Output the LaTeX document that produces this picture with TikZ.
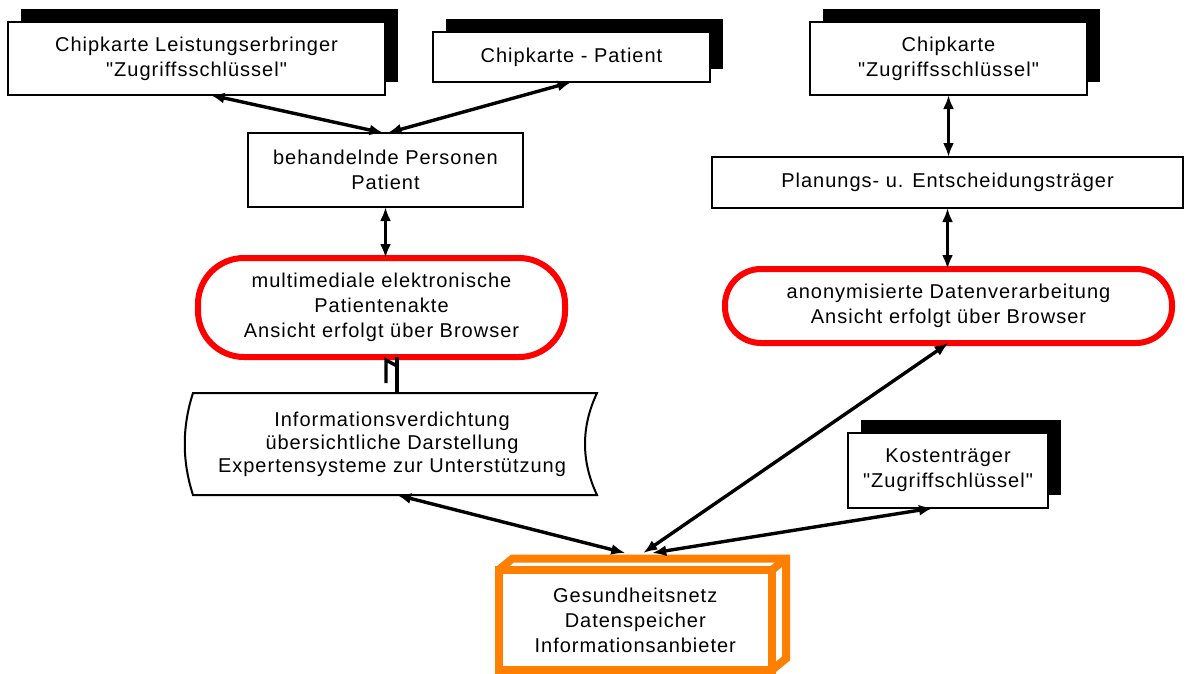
\documentclass[tikz,border=0pt]{standalone}
\usepackage{fontspec}
\setmainfont[LetterSpace=5, Ligatures=TeXOff]{Liberation Sans}
\usetikzlibrary{shadows,arrows.meta,calc}
\definecolor{netorange}{RGB}{255,128,0}

\begin{document}
\begin{tikzpicture}[x=1pt,y=-1pt,
  every node/.style={font=\fontsize{20}{25}\selectfont, align=center,
    inner sep=0pt, outer sep=0pt},
  card/.style={draw=black, line width=2pt, fill=white, anchor=north west,
    general shadow={fill=black, shadow xshift=13pt, shadow yshift=13pt}},
  plainbox/.style={draw=black, line width=2pt, fill=white, anchor=north west},
  viewbox/.style={draw=red, line width=6pt, fill=white, anchor=north west},
  store/.style={anchor=north west},
  netbox/.style={draw=netorange, line width=8pt, fill=white, anchor=north west},
  netedge/.style={draw=netorange, line width=8pt},
  link/.style={line width=3.4pt, {Latex[length=14pt,width=11pt]}-{Latex[length=14pt,width=11pt]}},
  plainlink/.style={line width=3.4pt},
]
\useasboundingbox (0,0) rectangle (1188,673);

% access cards and actors
\node[card, minimum width=377pt, minimum height=73pt] (cardLE) at (8,22)
  {Chipkarte Leistungserbringer\\"Zugriffsschlüssel"};
\node[card, minimum width=277pt, minimum height=50pt] (cardPat) at (433,32)
  {Chipkarte - Patient};
\node[card, minimum width=277pt, minimum height=73pt] (cardPlan) at (810,22)
  {Chipkarte\\"Zugriffsschlüssel"};
\node[plainbox, minimum width=275pt, minimum height=74pt] (persons) at (248,133)
  {behandelnde Personen\\Patient};
\node[plainbox, minimum width=471pt, minimum height=51pt] (planers) at (712,157)
  {Planungs- u. Entscheidungsträger};

% browser views
\node[viewbox, rounded corners=46pt, minimum width=367pt, minimum height=99pt] (epa) at (198,258)
  {multimediale elektronische\\Patientenakte\\Ansicht erfolgt über Browser};
\node[viewbox, rounded corners=36pt, minimum width=447pt, minimum height=74pt] (anon) at (725,269)
  {anonymisierte Datenverarbeitung\\Ansicht erfolgt über Browser};

% stored-data symbol
\node[store, minimum width=410pt, minimum height=102pt,
  font=\fontsize{20}{23}\selectfont] (dense) at (187,393)
  {Informationsverdichtung\\übersichtliche Darstellung\\Expertensysteme zur Unterstützung};
\draw[line width=2pt]
  ($(dense.north west)+(6,0)$) -- (dense.north east)
  .. controls ($(dense.north east)+(-16,34)$) and ($(dense.south east)+(-16,-34)$) .. (dense.south east)
  -- ($(dense.south west)+(6,0)$)
  .. controls ($(dense.south west)+(-5,-34)$) and ($(dense.north west)+(-5,34)$) .. cycle;

% cost bearer
\node[card, minimum width=200pt, minimum height=75pt] (cost) at (848,433)
  {Kostenträger\\"Zugriffschlüssel"};

% health network as a box
\draw[netedge] (498.5,570) -- ++(14,-11.5) -- ++(273.5,0) -- ++(0,100) -- ++(-14,11.5);
\draw[netedge] (772,570) -- ++(14,-11.5);
\node[netbox, minimum width=273.5pt, minimum height=100pt] (net) at (498.5,570)
  {Gesundheitsnetz\\Datenspeicher\\Informationsanbieter};

% connectors
\draw[link] ([xshift=14pt]cardLE.south) -- ([xshift=-2pt]persons.north);
\draw[link] (cardPat.south) -- ([xshift=2pt]persons.north);
\draw[link] (cardPlan.south) -- (cardPlan.south |- planers.north);
\draw[link] (planers.south) -- (planers.south |- anon.north);
\draw[link] (persons.south) -- (persons.south |- epa.north);
\draw[plainlink] ([xshift=5pt]dense.north) -- ([xshift=5pt]dense.north |- epa.south);
\draw[plainlink] ($([xshift=5pt]dense.north |- epa.south)+(-11,26)$) -- ++(0,-23) -- ++(11,6);
\draw[link] ([xshift=5pt]dense.south) -- ($(net.north)+(-10,-17)$);
\draw[link] (anon.south) -- ($(net.north)+(8,-17)$);
\draw[link] ([xshift=-15pt]cost.south) -- ($(net.north)+(17,-17)$);
\end{tikzpicture}
\end{document}
